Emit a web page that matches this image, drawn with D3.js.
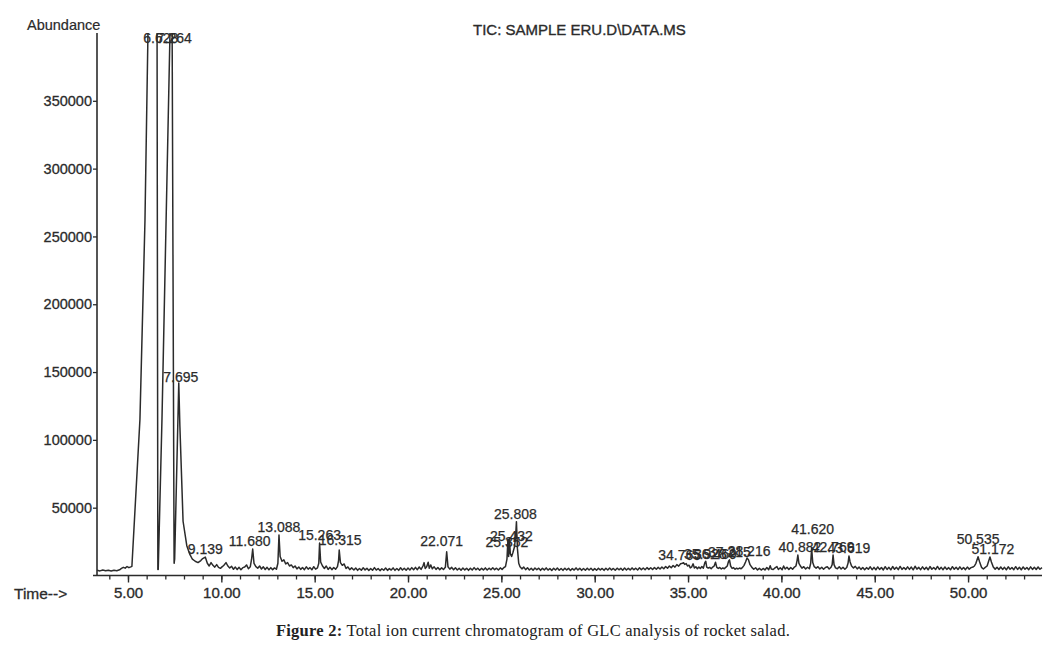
<!DOCTYPE html>
<html>
<head>
<meta charset="utf-8">
<script src="https://cdn.jsdelivr.net/npm/d3@7"></script>
<style>
  html, body { margin: 0; padding: 0; background: #ffffff; }
  svg { display: block; }
</style>
</head>
<body>
<svg id="chart" width="1053" height="649"></svg>
<script>
// ---------------- DATA ----------------
const chartTitle = "TIC: SAMPLE ERU.D\\DATA.MS";
const yAxisTitle = "Abundance";
const xAxisTitle = "Time-->";
const captionBold = "Figure 2:";
const captionText = " Total ion current chromatogram of GLC analysis of rocket salad.";

const timeDomain = [3.34, 53.96];
const abundanceDomain = [0, 400000];
const xMajorTicks = [5, 10, 15, 20, 25, 30, 35, 40, 45, 50];
const xMinorTicks = d3.range(4, 54, 1);
const yTicks = [50000, 100000, 150000, 200000, 250000, 300000, 350000];

// TIC trace: [retention time (min), abundance]
const trace = [
  [3.34,3800],[3.5,3400],[3.65,4000],[3.8,3500],[3.95,3900],[4.1,3300],[4.25,3800],[4.4,3500],[4.55,4200],[4.65,5200],[4.75,6000],[4.85,5400],[4.95,6600],[5.05,5800],[5.15,6400],
  [5.21,6800],[5.64,115000],[5.91,262000],[6.07,400000],[6.12,470000],[6.55,470000],[6.6,4500],
  [6.62,4500],[6.82,115000],[7.25,400000],[7.3,470000],[7.36,420000],[7.47,9000],
  [7.5,12000],[7.72,142000],[7.78,110000],[7.95,40000],[8.15,22000],[8.3,16000],
  [8.45,12000],[8.6,10500],[8.75,9500],[8.9,11000],[9.0,12500],[9.14,13600],[9.25,9000],[9.35,7000],[9.45,9500],[9.55,7500],[9.65,6200],[9.75,8000],[9.85,6000],[9.95,5300],
  [10.05,6500],[10.15,7800],[10.25,9500],[10.35,7000],[10.45,5500],[10.55,6800],[10.65,4600],[10.75,6200],[10.85,4400],[10.95,6000],[11.05,4300],[11.15,5800],[11.25,6200],[11.35,7800],[11.45,5000],[11.55,6400],[11.62,12000],[11.68,19500],[11.75,9000],[11.85,6500],[11.95,5400],
  [12.05,7000],[12.15,4800],[12.25,6400],[12.35,4400],[12.45,6000],[12.55,4200],[12.65,5800],[12.75,4300],[12.85,5600],[12.95,4600],[13.03,9000],[13.088,29900],[13.15,14000],[13.25,10500],[13.35,11500],[13.45,8500],[13.55,9500],[13.65,7000],[13.75,7800],[13.85,5800],[13.95,7000],
  [14.05,4900],[14.15,6300],[14.25,4500],[14.35,5900],[14.45,4300],[14.55,6400],[14.65,4700],[14.75,5800],[14.85,4200],[14.95,6500],[15.05,4700],[15.15,5600],[15.22,9000],[15.263,24000],[15.32,10000],[15.42,7000],[15.52,5200],[15.62,7000],[15.72,4500],[15.82,6100],[15.92,4300],
  [16.02,5900],[16.12,4600],[16.22,6500],[16.28,11000],[16.315,18800],[16.38,9500],[16.48,7500],[16.58,8500],[16.68,5200],[16.78,6300],[16.88,4300],[16.98,5600],
  [17.1,4000],[17.2,5500],[17.3,3800],[17.4,5200],[17.5,3900],[17.6,5700],[17.7,4100],[17.8,5300],[17.9,3700],[18.0,5100],[18.1,3900],[18.2,5800],[18.3,4000],[18.4,5200],[18.5,3600],[18.6,5000],[18.7,3900],[18.8,5500],[18.9,3800],
  [19.0,5100],[19.1,4000],[19.2,5600],[19.3,3800],[19.4,5200],[19.5,3800],[19.6,5700],[19.7,4000],[19.8,5300],[19.9,3900],[20.0,5500],[20.1,4100],[20.2,5800],[20.3,4200],[20.4,6000],[20.5,4300],[20.6,6300],[20.7,4500],[20.8,7000],[20.86,9500],[20.92,5200],
  [21.0,6500],[21.08,9800],[21.14,5300],[21.22,7800],[21.3,4900],[21.4,6400],[21.5,4500],[21.6,5900],[21.7,4300],[21.8,5600],[21.9,4400],[22.0,6000],[22.071,17500],[22.14,6500],[22.24,4700],[22.34,6000],[22.44,4200],[22.54,5700],[22.64,4100],[22.74,5400],[22.84,3900],[22.94,5500],
  [23.04,4100],[23.14,5300],[23.24,3800],[23.34,5400],[23.44,4000],[23.54,5800],[23.64,4200],[23.74,5400],[23.84,3900],[23.94,5300],[24.04,4100],[24.14,5600],[24.24,4000],[24.34,5400],[24.44,4200],[24.54,5700],[24.64,4300],[24.74,5400],[24.84,4100],[24.94,5600],
  [25.04,4500],[25.14,5900],[25.22,6500],[25.3,12000],[25.352,26500],[25.39,14000],[25.432,27500],[25.48,16000],[25.55,14000],[25.62,17000],[25.7,21000],[25.76,28000],[25.808,39700],[25.86,20000],[25.93,9000],
  [26.0,6500],[26.1,4900],[26.2,6200],[26.3,4300],[26.4,5700],[26.5,4100],[26.6,5400],[26.7,3900],[26.8,5500],[26.9,4200],[27.0,5400],[27.1,3800],[27.2,5300],[27.3,4100],[27.4,5600],[27.5,4000],[27.6,5200],[27.7,3700],[27.8,5300],[27.9,4000],
  [28.0,5500],[28.1,3900],[28.2,5200],[28.3,3800],[28.4,5400],[28.5,4100],[28.6,5300],[28.7,3700],[28.8,5200],[28.9,4000],[29.0,5600],[29.1,4100],[29.2,5300],[29.3,3800],[29.4,5200],[29.5,3900],[29.6,5400],[29.7,4000],[29.8,5300],[29.9,3800],
  [30.0,5100],[30.1,3900],[30.2,5400],[30.3,4100],[30.4,5200],[30.5,3800],[30.6,5300],[30.7,4000],[30.8,5500],[30.9,4100],[31.0,5200],[31.1,3900],[31.2,5400],[31.3,4200],[31.4,5300],[31.5,3900],[31.6,5500],[31.7,4000],[31.8,5300],[31.9,4100],
  [32.0,5600],[32.1,4200],[32.2,5400],[32.3,4100],[32.4,5700],[32.5,4300],[32.6,5500],[32.7,4200],[32.8,5800],[32.9,4500],[33.0,5700],[33.1,4400],[33.2,5900],[33.3,4600],[33.4,6000],[33.5,4800],[33.6,6300],[33.7,5000],[33.8,6600],[33.9,5300],
  [34.0,7000],[34.1,5700],[34.2,7400],[34.3,6200],[34.4,8000],[34.5,6900],[34.6,8600],[34.7,9000],[34.76,9400],[34.82,8200],[34.9,8800],[34.97,7000],[35.05,7600],[35.12,5600],[35.2,6400],[35.27,8600],[35.34,5500],[35.42,6500],[35.5,5000],[35.58,6200],[35.66,5200],[35.74,6600],[35.82,5400],[35.9,9500],[35.95,10500],
  [36.0,6200],[36.08,5400],[36.16,6000],[36.24,5000],[36.32,6200],[36.4,7000],[36.47,9800],[36.54,6000],[36.62,5200],[36.7,5900],[36.78,4800],[36.86,5600],[36.94,5000],[37.02,6000],[37.1,7000],[37.17,10500],[37.22,11500],[37.28,7000],[37.36,5200],[37.44,5800],[37.52,4600],[37.6,5400],[37.68,4800],[37.76,5500],[37.84,5000],[37.92,6000],
  [38.0,7500],[38.08,10000],[38.16,12900],[38.24,11500],[38.32,8000],[38.42,6000],[38.52,4600],[38.62,5700],[38.72,4100],[38.82,5300],[38.92,4000],[39.02,5200],[39.12,4100],[39.22,5900],[39.32,4300],[39.4,7200],[39.46,4800],[39.56,4400],[39.66,5600],[39.76,6600],[39.84,4400],[39.94,5700],
  [40.04,4200],[40.12,7000],[40.2,4800],[40.3,6100],[40.4,4400],[40.5,5900],[40.6,4600],[40.7,6200],[40.78,7000],[40.84,11000],[40.882,15100],[40.94,9000],[41.02,7000],[41.1,5400],[41.2,6500],[41.3,4800],[41.4,6100],[41.5,5000],[41.57,9000],[41.62,20300],[41.68,9500],[41.76,6500],[41.86,5400],[41.96,6500],
  [42.06,4800],[42.16,6100],[42.26,4600],[42.36,5900],[42.46,6400],[42.56,4800],[42.66,6100],[42.72,8000],[42.769,15100],[42.82,8000],[42.9,5600],[43.0,5000],[43.1,6500],[43.2,4800],[43.3,6100],[43.4,4600],[43.5,5900],[43.57,9000],[43.619,14400],[43.68,10000],[43.76,7000],[43.86,5600],[43.96,6700],
  [44.06,4900],[44.16,6200],[44.26,4500],[44.36,5900],[44.46,4300],[44.56,5800],[44.66,4600],[44.76,6400],[44.86,4300],[44.96,6000],[45.06,4200],[45.16,6300],[45.26,4500],[45.36,5900],[45.46,4100],[45.56,6500],[45.66,4500],[45.76,6000],[45.86,4200],[45.96,6600],
  [46.06,4600],[46.16,6100],[46.26,4300],[46.36,6700],[46.46,4500],[46.56,5900],[46.66,4400],[46.76,6400],[46.86,4500],[46.96,6200],[47.06,4200],[47.16,6800],[47.26,4700],[47.36,6000],[47.46,4300],[47.56,6400],[47.66,4500],[47.76,6100],[47.86,4200],[47.96,6600],
  [48.06,4600],[48.16,5900],[48.26,4400],[48.36,6700],[48.46,4500],[48.56,6000],[48.66,4300],[48.76,6300],[48.86,4500],[48.96,5800],[49.06,4200],[49.16,6500],[49.26,4600],[49.36,6100],[49.46,4400],[49.56,6400],[49.66,4500],[49.76,5900],[49.86,4300],[49.96,6200],
  [50.06,4700],[50.16,5800],[50.26,6200],[50.34,7000],[50.42,9000],[50.535,13900],[50.62,10000],[50.72,6000],[50.82,4800],[50.92,6000],[51.02,7000],[51.1,10500],[51.172,13600],[51.25,10000],[51.35,6200],[51.45,4700],
  [51.55,6000],[51.65,4400],[51.75,6300],[51.85,4500],[51.95,6000],[52.05,4200],[52.15,6400],[52.25,4600],[52.35,5900],[52.45,4300],[52.55,6500],[52.65,4500],[52.75,6100],[52.85,4200],[52.95,6300],[53.05,4600],[53.15,5900],[53.25,4300],[53.35,6400],[53.45,4500],[53.55,6000],[53.65,4400],[53.75,6300],[53.85,4600],[53.96,5800]
];

// Integrated peak labels (retention time text, apex time, apex abundance)
const peakLabels = ["6.628","7.264","7.695","9.139","11.680","13.088","15.263","16.315","22.071","25.352","25.432","25.808",
  "34.765","35.928","36.469","37.215","38.216","40.882","41.620","42.769","43.619","50.535","51.172"];
const peakTimes = [6.6,7.264,7.72,9.139,11.68,13.088,15.263,16.315,22.071,25.352,25.432,25.808,
  34.765,35.928,36.469,37.215,38.216,40.882,41.62,42.769,43.619,50.535,51.172];
const peakHeights = [470000,470000,142000,13600,19500,29900,24000,18800,17500,24000,27500,39700,
  9400,10500,9800,11500,12900,15100,20300,15100,14400,13900,13600];

// ---------------- DRAWING ----------------
// vertical label shift in px (staggering of crowded labels, as the instrument printout does)
const labelShift = [0,0,-2,0,0,0,0,2,3,-7,-6,0, 0,-1,0,0,-1,0,11,0,0,10,0];
const labelNudgeX = [3,4,2,0,-3,0,0,1,-5,-1,2,-1, -4,0,0,0,1,2,1,0,0,0,3];

const svg = d3.select("#chart");
const ink = "#2b2b2b";
const sans = "'Liberation Sans', Arial, sans-serif";

const x = d3.scaleLinear().domain(timeDomain).range([97, 1042]);
const y = d3.scaleLinear().domain(abundanceDomain).range([575.5, 33]);

svg.append("defs").append("clipPath").attr("id", "plotClip")
  .append("rect").attr("x", x(timeDomain[0])).attr("y", y(abundanceDomain[1]))
  .attr("width", x(timeDomain[1]) - x(timeDomain[0]) + 2)
  .attr("height", y(0) - y(abundanceDomain[1]) + 1);

// X axis (major ticks labelled, minor ticks every minute)
const xAxisG = svg.append("g").attr("transform", `translate(0,${y(0)})`);
xAxisG.call(d3.axisBottom(x).tickValues(xMinorTicks).tickSize(4).tickFormat(""))
  .call(g => g.select(".domain").remove());
xAxisG.selectAll("line").attr("stroke", ink).attr("stroke-width", 1.3);
const xMajorG = svg.append("g").attr("transform", `translate(0,${y(0)})`);
xMajorG.call(d3.axisBottom(x).tickValues(xMajorTicks).tickSize(7).tickPadding(5)
  .tickFormat(d3.format(".2f")))
  .call(g => g.select(".domain").remove());
xMajorG.selectAll("line").attr("stroke", ink).attr("stroke-width", 1.4);
xMajorG.selectAll("text").attr("font-family", sans).attr("font-size", 15)
  .attr("fill", ink).attr("stroke", ink).attr("stroke-width", 0.35);
svg.append("line").attr("x1", 93).attr("x2", x(timeDomain[1]))
  .attr("y1", y(0)).attr("y2", y(0)).attr("stroke", ink).attr("stroke-width", 1.6);

// Y axis
const yAxisG = svg.append("g").attr("transform", `translate(${x(timeDomain[0])},0)`);
yAxisG.call(d3.axisLeft(y).tickValues(yTicks).tickSize(4).tickPadding(1).tickFormat(d3.format("d")))
  .call(g => g.select(".domain").remove());
yAxisG.selectAll("line").attr("stroke", ink).attr("stroke-width", 1.3);
yAxisG.selectAll("text").attr("font-family", sans).attr("font-size", 14.5)
  .attr("fill", ink).attr("stroke", ink).attr("stroke-width", 0.3);
svg.append("line").attr("x1", x(timeDomain[0])).attr("x2", x(timeDomain[0]))
  .attr("y1", y(abundanceDomain[1])).attr("y2", y(0)).attr("stroke", ink).attr("stroke-width", 1.6);

// Trace
const line = d3.line().x(d => x(d[0])).y(d => y(d[1]));
svg.append("path").datum(trace).attr("clip-path", "url(#plotClip)")
  .attr("d", line).attr("fill", "none").attr("stroke", ink)
  .attr("stroke-width", 1.5).attr("stroke-linejoin", "round");

// Peak labels
const topLabelY = y(abundanceDomain[1]) + 10;
svg.append("g").selectAll("text").data(peakLabels).join("text")
  .attr("x", (d, i) => x(peakTimes[i]) + labelNudgeX[i])
  .attr("y", (d, i) => Math.max(y(peakHeights[i]) - 3, topLabelY) - labelShift[i])
  .attr("text-anchor", "middle")
  .attr("font-family", sans).attr("font-size", 14).attr("fill", ink)
  .attr("stroke", ink).attr("stroke-width", 0.25)
  .text(d => d);

// Titles
svg.append("text").attr("x", 27).attr("y", 30).attr("font-family", sans)
  .attr("font-size", 14.5).attr("fill", ink).attr("stroke", ink).attr("stroke-width", 0.2)
  .text(yAxisTitle);
svg.append("text").attr("x", 473).attr("y", 35).attr("font-family", sans)
  .attr("font-size", 15).attr("fill", ink).attr("stroke", ink).attr("stroke-width", 0.35)
  .text(chartTitle);
svg.append("text").attr("x", 14).attr("y", 599).attr("font-family", sans)
  .attr("font-size", 15.5).attr("fill", ink).attr("stroke", ink).attr("stroke-width", 0.3)
  .text(xAxisTitle);

// Caption
const cap = svg.append("text").attr("x", 533).attr("y", 636).attr("text-anchor", "middle")
  .attr("font-family", "'Liberation Serif', 'Times New Roman', serif").attr("font-size", 16.5)
  .attr("letter-spacing", 0.25).attr("fill", "#222");
cap.append("tspan").attr("font-weight", "bold").text(captionBold);
cap.append("tspan").text(captionText);
</script>
</body>
</html>
